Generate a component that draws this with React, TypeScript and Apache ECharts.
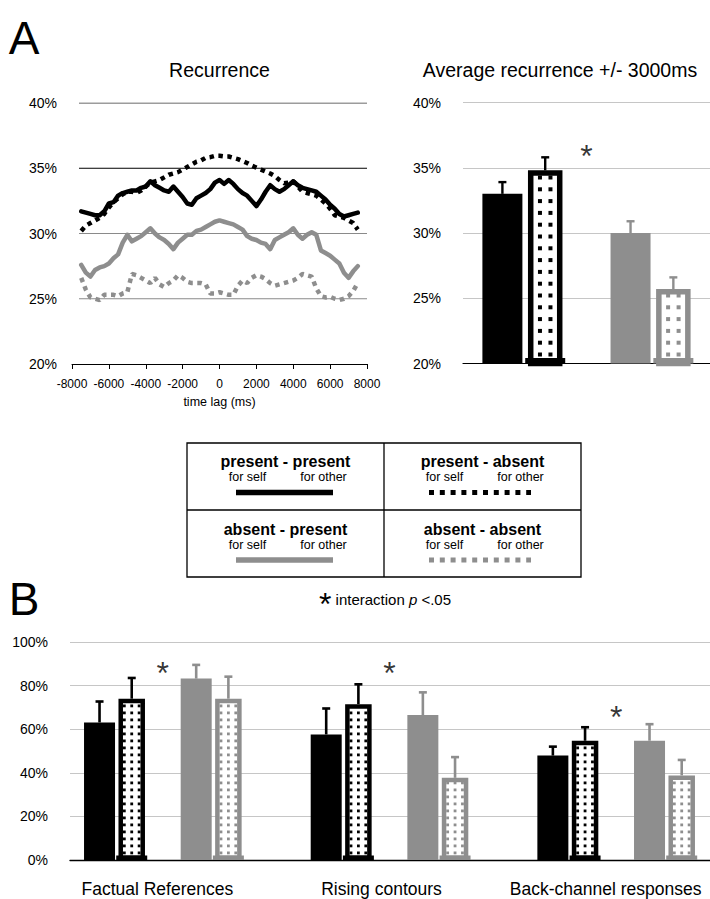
import React, { useEffect, useRef } from "react";
import * as echarts from "echarts";

const FONT = '"Liberation Sans", Arial, Helvetica, sans-serif';
const BLACK = "#000000";
const GRAY = "#8e8e8e";
const GRID_GRAY = "#c6c6c6";

// ---------- Panel A (left): recurrence by time lag ----------
const lagMs = [
  -7500, -7250, -7000, -6750, -6500, -6250, -6000, -5750, -5500, -5250,
  -5000, -4750, -4500, -4250, -4000, -3750, -3500, -3250, -3000, -2750,
  -2500, -2250, -2000, -1750, -1500, -1250, -1000, -750, -500, -250,
  0,
  250, 500, 750, 1000, 1250, 1500, 1750, 2000, 2250, 2500,
  2750, 3000, 3250, 3500, 3750, 4000, 4250, 4500, 4750, 5000,
  5250, 5500, 5750, 6000, 6250, 6500, 6750, 7000, 7250, 7500,
];
const presentPresent = [
  31.7, 31.6, 31.5, 31.4, 31.4, 31.7, 32.3, 32.4, 32.9, 33.1,
  33.2, 33.3, 33.3, 33.5, 33.6, 34.0, 33.7, 33.5, 33.3, 33.2,
  33.6, 33.2, 32.8, 32.3, 32.2, 32.7, 32.9, 33.1, 33.4, 33.9,
  34.1,
  33.8, 34.1, 33.8, 33.4, 33.1, 32.9, 32.5, 32.1, 32.6, 33.2,
  33.7, 33.4, 33.2, 33.4, 33.7, 34.0, 33.7, 33.5, 33.4, 33.3,
  33.2, 32.9, 32.6, 32.2, 31.9, 31.5, 31.3, 31.4, 31.5, 31.6,
];
const presentAbsent = [
  30.2, 30.6, 30.8, 31.0, 31.2, 31.5, 32.0, 32.4, 32.7, 33.0,
  33.2, 33.2, 33.1, 33.3, 33.6, 33.9, 34.0, 34.1, 34.3, 34.5,
  34.6, 34.7, 34.9, 35.1, 35.3, 35.5, 35.6, 35.8, 35.85, 35.95,
  35.95,
  35.9, 35.9, 35.8, 35.7, 35.55, 35.4, 35.2, 35.05, 34.9, 34.75,
  34.6, 34.4, 34.1, 33.85, 33.9, 34.0, 33.6, 33.2, 33.1, 33.0,
  32.9, 32.6, 32.3, 31.9, 31.4, 31.3, 31.2, 31.0, 30.8, 30.3,
];
const absentPresent = [
  27.6, 27.0, 26.7, 27.2, 27.4, 27.5, 27.7, 28.1, 28.4, 29.3,
  29.9, 29.4, 29.6, 29.8, 30.1, 30.4, 30.0, 29.7, 29.5, 29.2,
  28.8, 29.3, 29.6, 29.9, 29.9, 30.2, 30.3, 30.5, 30.7, 30.9,
  31.0,
  30.9, 30.8, 30.7, 30.5, 30.3, 29.8, 29.6, 29.5, 29.3, 29.2,
  28.8, 29.5, 29.7, 29.9, 30.1, 30.4, 29.9, 29.6, 29.9, 30.1,
  29.9, 28.7, 28.5, 28.3, 28.0, 27.7, 27.0, 26.6, 27.1, 27.5,
];
const absentAbsent = [
  26.6, 25.7, 25.1, 25.0, 24.9, 25.3, 25.3, 25.3, 25.2, 25.4,
  25.5, 26.9, 26.8, 26.6, 26.4, 26.2, 26.6, 26.1, 25.9, 26.2,
  26.4, 26.8, 26.6, 26.3, 26.2, 26.2, 26.2, 26.1, 25.4, 25.4,
  25.5,
  25.4, 25.3, 25.3, 26.0, 26.4, 26.2, 26.6, 26.8, 26.7, 26.5,
  26.2, 26.0, 26.1, 26.2, 26.3, 26.4, 26.6, 26.9, 26.8, 26.7,
  25.8, 25.2, 25.1, 25.15, 25.0, 24.9, 25.0, 25.2, 25.6, 26.2,
];
const leftGridLevels = [40, 35, 30, 25];
const leftGridFromMs = -7620;

// ---------- Panel A (right): average recurrence +/- 3000ms ----------
const avgCategory = ["+/- 3000ms"];
const avgValues = [33.0, 34.8, 30.0, 25.7];
const avgErrors = [0.9, 1.0, 0.9, 0.9];
const avgSignificance = [36.5];

// ---------- Panel B ----------
const behaviours = ["Factual References", "Rising contours", "Back-channel responses"];
const bPresentPresent = [63.1, 57.6, 47.9];
const bPresentPresentErr = [9.6, 11.9, 4.1];
const bPresentAbsent = [74.0, 71.5, 54.7];
const bPresentAbsentErr = [9.5, 9.1, 6.2];
const bAbsentPresent = [83.2, 66.5, 54.7];
const bAbsentPresentErr = [6.3, 10.4, 7.6];
const bAbsentAbsent = [74.0, 37.7, 38.8];
const bAbsentAbsentErr = [10.1, 9.5, 7.1];
const bSignificance = [89.5, 89.5, 69.4];

const groupNames = ["present - present", "present - absent", "absent - present", "absent - absent"];

function slotCenters(widths: number[], gap: number): number[] {
  let sum = 0;
  widths.forEach((w) => (sum += w * (1 + gap)));
  sum -= widths[widths.length - 1] * gap;
  let off = -sum / 2;
  return widths.map((w) => {
    const c = off + w / 2;
    off += w * (1 + gap);
    return c;
  });
}

type PanelCfg = {
  xi: number;
  base: number;
  widths: number[];
  gap: number;
  border: number;
  dot: { px: number; py: number; size: number; cols: number; inset: number };
  errW: number;
  capW: number;
};

function buildBarSeries(cfg: PanelCfg, groups: number[][], errs: number[][], sig: number[]) {
  const centers = slotCenters(cfg.widths, cfg.gap);
  const slots = [0, 1, 3, 4];
  const series: any[] = [];
  const gapStr = (cfg.gap * 100).toFixed(2) + "%";
  for (let s = 0; s < 5; s++) {
    const g = slots.indexOf(s);
    if (g < 0) {
      series.push({
        type: "bar", xAxisIndex: cfg.xi, yAxisIndex: cfg.xi, barWidth: cfg.widths[s], barGap: gapStr,
        data: groups[0].map(() => "-"), silent: true, z: 2,
      });
      continue;
    }
    const dotted = g % 2 === 1;
    const color = g < 2 ? BLACK : GRAY;
    series.push({
      type: "bar", name: groupNames[g], xAxisIndex: cfg.xi, yAxisIndex: cfg.xi,
      barWidth: cfg.widths[s], barGap: gapStr, data: groups[g], silent: true, z: 2,
      itemStyle: dotted
        ? { color: "#ffffff", borderColor: color, borderWidth: cfg.border }
        : { color },
    });
  }
  // dots inside dotted bars
  const dotData: number[][] = [];
  [1, 3].forEach((g) => groups[g].forEach((v, ci) => dotData.push([ci, v, slots[g], g < 2 ? 0 : 1])));
  series.push({
    type: "custom", xAxisIndex: cfg.xi, yAxisIndex: cfg.xi, data: dotData, silent: true, z: 4,
    encode: { x: 0, y: 1 },
    renderItem: (params: any, api: any) => {
      const cat = api.value(0), v = api.value(1), slot = api.value(2), ci = api.value(3);
      const color = ci ? GRAY : BLACK;
      const top = api.coord([cat, v]);
      const bot = api.coord([cat, cfg.base]);
      const cx = top[0] + centers[slot];
      const w = cfg.widths[slot];
      const bw = cfg.border;
      const children: any[] = [
        { type: "rect", z2: 10, shape: { x: cx - w / 2 - bw / 2, y: bot[1] - bw, width: w + bw, height: bw }, style: { fill: color } },
      ];
      const innerTop = top[1] + bw / 2 + cfg.dot.inset;
      const innerBottom = bot[1] - bw - cfg.dot.inset;
      for (let y = innerBottom - cfg.dot.size; y >= innerTop; y -= cfg.dot.py) {
        for (let c = 0; c < cfg.dot.cols; c++) {
          const x = cx + (c - (cfg.dot.cols - 1) / 2) * cfg.dot.px - cfg.dot.size / 2;
          children.push({ type: "rect", z2: 10, shape: { x, y, width: cfg.dot.size, height: cfg.dot.size }, style: { fill: color } });
        }
      }
      return { type: "group", children };
    },
  });
  // error bars
  const errData: number[][] = [];
  [0, 1, 2, 3].forEach((g) => groups[g].forEach((v, ci) => errData.push([ci, v, errs[g][ci], slots[g], g < 2 ? 0 : 1])));
  series.push({
    type: "custom", xAxisIndex: cfg.xi, yAxisIndex: cfg.xi, data: errData, silent: true, z: 4,
    encode: { x: 0, y: 1 },
    renderItem: (params: any, api: any) => {
      const cat = api.value(0), v = api.value(1), e = api.value(2), slot = api.value(3), ci = api.value(4);
      const color = ci ? GRAY : BLACK;
      const p0 = api.coord([cat, v]);
      const p1 = api.coord([cat, v + e]);
      const x = p0[0] + centers[slot];
      return {
        type: "group",
        children: [
          { type: "line", shape: { x1: x, y1: p0[1], x2: x, y2: p1[1] }, style: { stroke: color, lineWidth: cfg.errW } },
          { type: "line", shape: { x1: x - cfg.capW / 2, y1: p1[1], x2: x + cfg.capW / 2, y2: p1[1] }, style: { stroke: color, lineWidth: cfg.errW } },
        ],
      };
    },
  });
  // significance asterisks
  series.push({
    type: "scatter", xAxisIndex: cfg.xi, yAxisIndex: cfg.xi, silent: true, z: 5,
    data: sig.map((v, i) => [i, v]), symbolSize: 1, itemStyle: { color: "rgba(0,0,0,0)" },
    label: { show: true, position: "inside", formatter: "*", fontSize: 32, color: BLACK, fontFamily: FONT, offset: [0, 8] },
  });
  return series;
}

function lineSeries(values: number[], color: string, dotted: boolean) {
  return {
    type: "line", xAxisIndex: 0, yAxisIndex: 0, symbol: "none", silent: true,
    data: lagMs.map((t, i) => [t, values[i]]),
    lineStyle: dotted
      ? { color, width: 4.5, type: [4.5, 4.5], cap: "butt" }
      : { color, width: 4.5, join: "round", cap: "round" },
  };
}

function buildOption() {
  const tx = (text: string, x: number, y: number, size: number, extra: any = {}) => ({
    type: "text", x, y, silent: true,
    style: { text, fill: BLACK, fontSize: size, fontFamily: FONT, align: "center", verticalAlign: "middle", ...extra },
  });
  const legendCells = [
    { cx: 285.5, y: 461.5, name: groupNames[0], color: BLACK, dotted: false, x1: 236, x2: 333, ly: 492.5 },
    { cx: 482.5, y: 461.5, name: groupNames[1], color: BLACK, dotted: true, x1: 429, x2: 531, ly: 492.5 },
    { cx: 285.5, y: 529, name: groupNames[2], color: GRAY, dotted: false, x1: 236, x2: 333, ly: 560 },
    { cx: 482.5, y: 529, name: groupNames[3], color: GRAY, dotted: true, x1: 429, x2: 531, ly: 560 },
  ];
  const graphic: any[] = [
    tx("A", 24, 38, 46),
    tx("B", 24, 599, 46),
    tx("Recurrence", 219.5, 70, 19.5),
    tx("Average recurrence +/- 3000ms", 560, 70, 19.5),
    { type: "rect", silent: true, shape: { x: 187, y: 443, width: 394, height: 134 }, style: { fill: "none", stroke: BLACK, lineWidth: 1.3 } },
    { type: "line", silent: true, shape: { x1: 384, y1: 443, x2: 384, y2: 577 }, style: { stroke: BLACK, lineWidth: 1.3 } },
    { type: "line", silent: true, shape: { x1: 187, y1: 510, x2: 581, y2: 510 }, style: { stroke: BLACK, lineWidth: 1.3 } },
    {
      type: "text", x: 385, y: 599, silent: true,
      style: {
        text: "{s|*} interaction {i|p} <.05", fill: BLACK, fontSize: 15, fontFamily: FONT, align: "center", verticalAlign: "middle",
        rich: { s: { fontSize: 32, fontFamily: FONT, fill: BLACK, padding: [10, 0, 0, 0] }, i: { fontSize: 15, fontStyle: "italic", fontFamily: FONT, fill: BLACK } },
      },
    },
  ];
  legendCells.forEach((c) => {
    graphic.push(tx(c.name, c.cx, c.y, 16, { fontWeight: "bold" }));
    graphic.push(tx("for self", c.cx - 38, c.y + 15.5, 12.5));
    graphic.push(tx("for other", c.cx + 38, c.y + 15.5, 12.5));
    graphic.push({
      type: "line", silent: true, shape: { x1: c.x1, y1: c.ly, x2: c.x2, y2: c.ly },
      style: c.dotted ? { stroke: c.color, lineWidth: 5, lineDash: [5, 5.8], lineCap: "butt" } : { stroke: c.color, lineWidth: 5.5, lineCap: "butt" },
    });
  });

  const leftGridColors = ["#3a3a3a", "#000000", "#8a8a8a", "#8a8a8a"];
  const gridLineSeries = leftGridLevels.map((lvl, i) => ({
    type: "line", xAxisIndex: 0, yAxisIndex: 0, symbol: "none", silent: true,
    data: [[leftGridFromMs, lvl], [8000, lvl]],
    lineStyle: { color: leftGridColors[i], width: 1 },
  }));

  const panelA: PanelCfg = {
    xi: 1, base: 20, widths: [40, 34.5, 38, 40, 34.5], gap: 0.139, border: 5.5,
    dot: { px: 10.5, py: 11.8, size: 4, cols: 2, inset: 1.5 }, errW: 2.4, capW: 8,
  };
  const panelB: PanelCfg = {
    xi: 3, base: 0, widths: [31, 26.5, 29.5, 31, 26.5], gap: 0.111, border: 4.5,
    dot: { px: 7.4, py: 7.0, size: 2.8, cols: 3, inset: 1.2 }, errW: 2.6, capW: 8,
  };

  const axisLabel = { color: BLACK, fontFamily: FONT };

  return {
    animation: false,
    textStyle: { fontFamily: FONT },
    grid: [
      { left: 72, top: 103, width: 295, height: 261, outerBoundsMode: "none" },
      { left: 463, top: 102.5, width: 247, height: 261, outerBoundsMode: "none" },
      { left: 70, top: 642, width: 640, height: 218, outerBoundsMode: "none" },
      { left: 49.5, top: 642, width: 680, height: 218, outerBoundsMode: "none" },
    ],
    xAxis: [
      {
        gridIndex: 0, type: "value", min: -8000, max: 8000, interval: 2000,
        axisLine: { show: true, onZero: false, lineStyle: { color: BLACK, width: 1 } },
        axisTick: { show: true, length: 5, lineStyle: { color: BLACK } },
        axisLabel: { ...axisLabel, fontSize: 12, margin: 14, formatter: (v: number) => String(v) },
        splitLine: { show: false },
        name: "time lag (ms)", nameLocation: "middle", nameGap: 31,
        nameTextStyle: { color: BLACK, fontSize: 12.5, fontFamily: FONT },
      },
      {
        gridIndex: 1, type: "category", data: avgCategory,
        axisLine: { show: true, lineStyle: { color: BLACK, width: 1.2 } },
        axisTick: { show: false }, axisLabel: { show: false },
      },
      {
        gridIndex: 2, type: "value", min: 0, max: 1,
        axisLine: { show: true, onZero: false, lineStyle: { color: BLACK, width: 1.4 } },
        axisTick: { show: false }, axisLabel: { show: false }, splitLine: { show: false },
      },
      {
        gridIndex: 3, type: "category", data: behaviours,
        axisLine: { show: false }, axisTick: { show: false },
        axisLabel: {
          ...axisLabel, fontSize: 17.5, margin: 20, interval: 0, hideOverlap: false,
          formatter: (v: string, i: number) => `{l${i}|${v}}`,
          rich: {
            l0: { fontSize: 17.5, fontFamily: FONT, color: BLACK, padding: [0, 11, 0, 0] },
            l1: { fontSize: 17.5, fontFamily: FONT, color: BLACK, padding: [0, 16, 0, 0] },
            l2: { fontSize: 17.5, fontFamily: FONT, color: BLACK, padding: [0, 21, 0, 0] },
          },
        },
      },
    ],
    yAxis: [
      {
        gridIndex: 0, type: "value", min: 20, max: 40, interval: 5,
        axisLine: { show: false }, axisTick: { show: false }, splitLine: { show: false },
        axisLabel: { ...axisLabel, fontSize: 14, margin: 15, formatter: "{value}%" },
      },
      {
        gridIndex: 1, type: "value", min: 20, max: 40, interval: 5,
        axisLine: { show: false }, axisTick: { show: false },
        splitLine: { show: true, showMinLine: false, lineStyle: { color: GRID_GRAY, width: 1 } },
        axisLabel: { ...axisLabel, fontSize: 14, margin: 22, formatter: "{value}%" },
      },
      {
        gridIndex: 2, type: "value", min: 0, max: 100, interval: 20,
        axisLine: { show: false }, axisTick: { show: false },
        splitLine: { show: true, showMinLine: false, lineStyle: { color: GRID_GRAY, width: 1 } },
        axisLabel: { ...axisLabel, fontSize: 14, margin: 22, formatter: "{value}%" },
      },
      { gridIndex: 3, type: "value", min: 0, max: 100, show: false },
    ],
    series: [
      ...gridLineSeries,
      lineSeries(absentPresent, GRAY, false),
      lineSeries(absentAbsent, GRAY, true),
      lineSeries(presentPresent, BLACK, false),
      lineSeries(presentAbsent, BLACK, true),
      ...buildBarSeries(
        panelA,
        avgValues.map((v) => [v]),
        avgErrors.map((e) => [e]),
        avgSignificance,
      ),
      ...buildBarSeries(
        panelB,
        [bPresentPresent, bPresentAbsent, bAbsentPresent, bAbsentAbsent],
        [bPresentPresentErr, bPresentAbsentErr, bAbsentPresentErr, bAbsentAbsentErr],
        bSignificance,
      ),
    ],
    graphic,
  };
}

export default function App() {
  const ref = useRef<HTMLDivElement>(null);
  useEffect(() => {
    document.body.style.margin = "0";
    if (!ref.current) return;
    const chart = echarts.init(ref.current, undefined, { renderer: "svg" });
    chart.setOption(buildOption() as any);
    return () => chart.dispose();
  }, []);
  return <div ref={ref} style={{ width: 710, height: 899, background: "#ffffff" }} />;
}
